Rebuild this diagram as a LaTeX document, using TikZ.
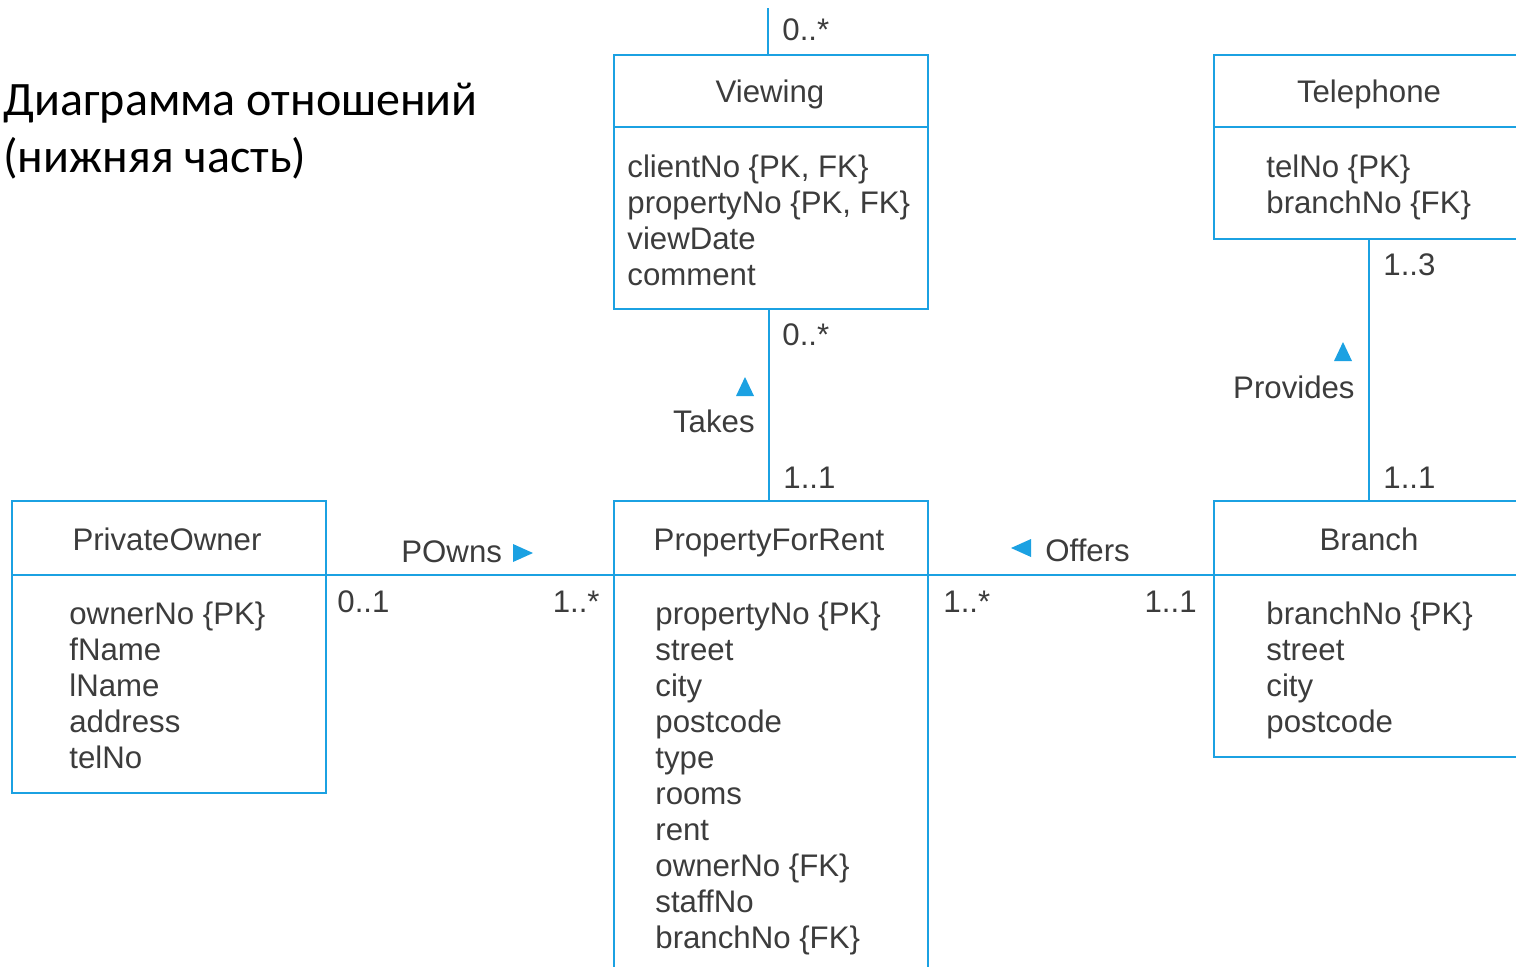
\documentclass[tikz,border=0pt]{standalone}
\usepackage{fontspec}
\setmainfont{Liberation Sans}
\newfontfamily\titlefont{Carlito}
\definecolor{uml}{RGB}{27,161,226}
\definecolor{txt}{RGB}{60,60,60}
\begin{document}
\begin{tikzpicture}[x=0.5pt,y=-0.5pt,
  cls/.style={draw=uml,line width=1.1pt,anchor=north west,inner sep=0pt,minimum width=157pt},
  conn/.style={draw=uml,line width=1.1pt},
  lbl/.style={inner sep=0pt,text=txt,font=\fontsize{15.6}{18}\selectfont},
  attr/.style={lbl,anchor=base west},
  hdr/.style={lbl,anchor=base},
  tri/.style={fill=uml}]
\useasboundingbox (0,0) rectangle (1516,966);
\begin{scope}
\clip (0,0) rectangle (1516,966);
% title
\node[anchor=base west,inner sep=0pt,font=\titlefont\fontsize{24}{28.5}\selectfont] (title) at (3,115) {Диаграмма отношений};
\node[anchor=base west,inner sep=0pt,font=\titlefont\fontsize{24}{28.5}\selectfont] (title2) at (3,172) {(нижняя часть)};
% boxes
\node[cls,minimum height=127pt] (view) at (613,54) {};
\node[cls,minimum height=92pt] (tel) at (1213,54) {};
\node[cls,minimum height=146pt] (po) at (11,500) {};
\node[cls,minimum height=260pt] (pfr) at (613,500) {};
\node[cls,minimum height=128pt] (br) at (1213,500) {};
% dividers
\foreach \b in {view,tel}
  \draw[conn] ([yshift=-36.5pt]\b.north west) -- ([yshift=-36.5pt]\b.north east);
\foreach \b in {po,pfr,br}
  \draw[conn] ([yshift=-37.5pt]\b.north west) -- ([yshift=-37.5pt]\b.north east);
% connectors
\coordinate (vtop) at (768,8);
\draw[conn] (vtop) -- (vtop |- view.north);
\draw[conn] ([xshift=-1pt]view.south) -- ([xshift=-1pt]pfr.north);
\draw[conn] ([xshift=-1pt]tel.south) -- ([xshift=-1pt]br.north);
\draw[conn] ([yshift=-37.5pt]po.north east) -- ([yshift=-37.5pt]pfr.north west);
\draw[conn] ([yshift=-37.5pt]pfr.north east) -- ([yshift=-37.5pt]br.north west);
% headers
\node[hdr] (viewh) at (770,102) {Viewing};
\node[hdr] (telh) at (1369,102) {Telephone};
\node[hdr] (poh) at (167,550) {PrivateOwner};
\node[hdr] (pfrh) at (769,550) {PropertyForRent};
\node[hdr] (brh) at (1369,550) {Branch};
% attributes
\foreach \t [count=\i from 0] in {{clientNo \{PK, FK\}},{propertyNo \{PK, FK\}},viewDate,comment}
  \node[attr] (va\i) at (627,177+36*\i) {\t};
\foreach \t [count=\i from 0] in {telNo \{PK\},branchNo \{FK\}}
  \node[attr] (ta\i) at (1266,177+36*\i) {\t};
\foreach \t [count=\i from 0] in {ownerNo \{PK\},fName,lName,address,telNo}
  \node[attr] (pa\i) at (69,624+36*\i) {\t};
\foreach \t [count=\i from 0] in {propertyNo \{PK\},street,city,postcode,type,rooms,rent,ownerNo \{FK\},staffNo,branchNo \{FK\}}
  \node[attr] (ra\i) at (655,624+36*\i) {\t};
\foreach \t [count=\i from 0] in {branchNo \{PK\},street,city,postcode}
  \node[attr] (ba\i) at (1266,624+36*\i) {\t};
% multiplicities
\node[attr] (m1) at (782,40) {0..*};
\node[attr] (m2) at (782,345) {0..*};
\node[attr] (m3) at (783,488) {1..1};
\node[attr] (m4) at (1383,275) {1..3};
\node[attr] (m5) at (1383,488) {1..1};
\node[attr] (m6) at (337,612) {0..1};
\node[lbl,anchor=base east] (m7) at (600,612) {1..*};
\node[attr] (m8) at (943,612) {1..*};
\node[lbl,anchor=base east] (m9) at (1197,612) {1..1};
% association names
\node[lbl,anchor=base east] (takes) at (755,432) {Takes};
\node[lbl,anchor=base east] (prov) at (1355,398) {Provides};
\node[attr] (owns) at (401,562) {POwns};
\node[attr] (offers) at (1045,561) {Offers};
% direction triangles
\fill[tri] (736,396) -- (754,396) -- (745,377) -- cycle;
\fill[tri] (1334,361) -- (1352,361) -- (1343,342) -- cycle;
\fill[tri] (513,544) -- (513,562) -- (533,553) -- cycle;
\fill[tri] (1031,539) -- (1031,557) -- (1011,548) -- cycle;
\end{scope}
\end{tikzpicture}
\end{document}
